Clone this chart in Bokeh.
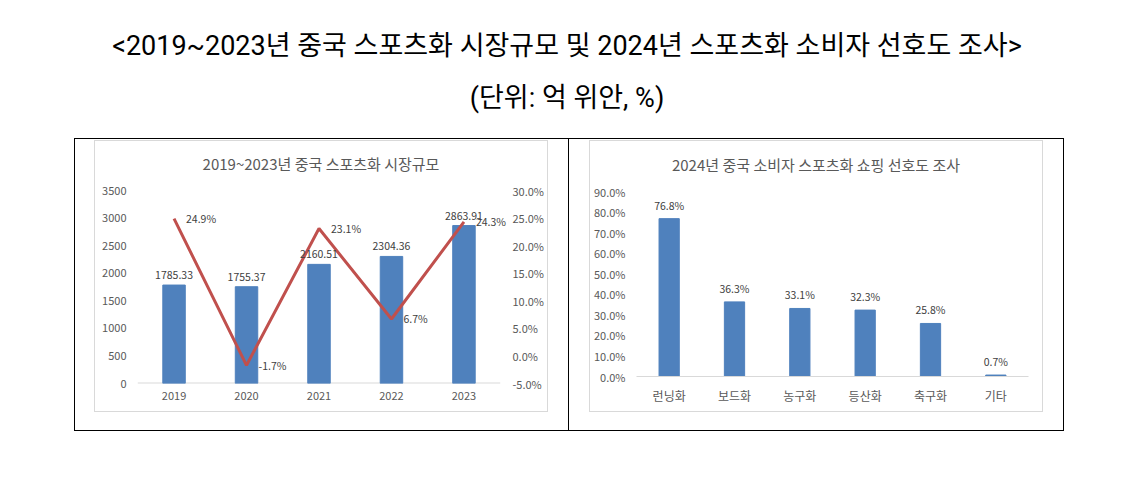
from bokeh.plotting import figure
from bokeh.layouts import row, column
from bokeh.models import (Div, Spacer, Range1d, LinearAxis, FixedTicker,
                          PrintfTickFormatter, FactorRange, Label)
from bokeh.core.properties import value
from bokeh.embed import file_html
from bokeh.resources import INLINE

# ---------------- data ----------------
years = ["2019", "2020", "2021", "2022", "2023"]
market_size = [1785.33, 1755.37, 2160.51, 2304.36, 2863.91]
growth_pct = [24.9, -1.7, 23.1, 6.7, 24.3]
market_ticks = [0, 500, 1000, 1500, 2000, 2500, 3000, 3500]
growth_ticks = [-5, 0, 5, 10, 15, 20, 25, 30]

shoe_types = ["런닝화", "보드화", "농구화", "등산화", "축구화", "기타"]
preference_pct = [76.8, 36.3, 33.1, 32.3, 25.8, 0.7]
pref_ticks = [0, 10, 20, 30, 40, 50, 60, 70, 80, 90]

main_title = "&lt;2019~2023년 중국 스포츠화 시장규모 및 2024년 스포츠화 소비자 선호도 조사&gt;"
unit_title = "(단위: 억 위안, %)"
left_title = "2019~2023년 중국 스포츠화 시장규모"
right_title = "2024년 중국 소비자 스포츠화 쇼핑 선호도 조사"

# ---------------- style ----------------
KFONT = "Noto Sans CJK KR"
BAR = "#4f81bd"
LINE = "#c0504d"
TICK = "#595959"
LABEL = "#404040"
GRAY = "#d9d9d9"


def hline(w, color):
    return Div(text="", width=w, height=1, margin=0,
               styles={"background-color": color})


def vline(h, color):
    return Div(text="", width=1, height=h, margin=0,
               styles={"background-color": color})


def sp(w, h):
    return Spacer(width=w, height=h, margin=0)


def title_div(txt, pad):
    html = (f'<div style="width:452px;text-align:center;font-family:\'{KFONT}\';'
            f'font-size:15px;color:{TICK};padding-top:{pad}px;line-height:20px;'
            f'white-space:nowrap;">{txt}</div>')
    return Div(text=html, width=452, height=40, margin=0)


def style_axis(ax, standoff):
    ax.axis_line_color = None
    ax.major_tick_line_color = None
    ax.minor_tick_line_color = None
    ax.major_tick_out = 0
    ax.major_tick_in = 0
    ax.major_label_standoff = standoff
    ax.major_label_text_font = KFONT
    ax.major_label_text_font_size = "11px"
    ax.major_label_text_color = TICK


# ---------------- left chart ----------------
# the frame is padded on both sides so that the last line label is not clipped;
# axis labels are pulled back in with negative standoffs
p1 = figure(width=452, height=230,
            x_range=FactorRange(*years, range_padding=0.28,
                                range_padding_units="absolute"),
            y_range=Range1d(0, 3500), output_backend="svg",
            toolbar_location=None, min_border_left=22, min_border_right=27,
            min_border_top=9, min_border_bottom=28, margin=0)
p1.outline_line_color = None
p1.xgrid.visible = False
p1.ygrid.visible = False
p1.extra_y_ranges = {"pct": Range1d(-5, 30)}

# baseline spanning only the category area
p1.segment(x0=[0], x1=[len(years)], y0=[0], y1=[0], line_color=GRAY,
           line_width=2)
p1.vbar(x=years, top=market_size, width=0.31, color=BAR)
p1.line(x=years, y=growth_pct, y_range_name="pct", color=LINE, line_width=3)

p1.text(x=years, y=market_size, text=[f"{v:.2f}" for v in market_size],
        text_align="center", text_baseline="bottom", y_offset=-6,
        text_font=value(KFONT), text_font_size="10.5px", text_color=LABEL)

for i, g in enumerate(growth_pct):
    p1.add_layout(Label(x=i + 0.5, y=g, text=f"{g:.1f}%", y_range_name="pct",
                        x_offset=12, text_align="left", text_baseline="middle",
                        text_font=KFONT, text_font_size="10.5px",
                        text_color=LABEL))

p1.yaxis.ticker = FixedTicker(ticks=market_ticks)
style_axis(p1.yaxis[0], -9)
style_axis(p1.xaxis[0], 8)

rax = LinearAxis(y_range_name="pct", ticker=FixedTicker(ticks=growth_ticks),
                 formatter=PrintfTickFormatter(format="%.1f%%"))
style_axis(rax, -8)
p1.add_layout(rax, "right")

# ---------------- right chart ----------------
p2 = figure(width=452, height=230, x_range=FactorRange(*shoe_types),
            y_range=Range1d(0, 90), output_backend="svg",
            toolbar_location=None, min_border_left=46, min_border_right=14,
            min_border_top=10, min_border_bottom=35, margin=0)
p2.outline_line_color = None
p2.xgrid.visible = False
p2.ygrid.visible = False

p2.vbar(x=shoe_types, top=preference_pct, width=0.31, color=BAR)
p2.text(x=shoe_types, y=preference_pct,
        text=[f"{v:.1f}%" for v in preference_pct],
        text_align="center", text_baseline="bottom", y_offset=-6,
        text_font=value(KFONT), text_font_size="10.5px", text_color=LABEL)

p2.yaxis.ticker = FixedTicker(ticks=pref_ticks)
p2.yaxis.formatter = PrintfTickFormatter(format="%.1f%%")
style_axis(p2.yaxis[0], 11)
style_axis(p2.xaxis[0], 10)
p2.xaxis.major_label_text_font_size = "12px"
p2.xaxis.axis_line_color = GRAY


def gray_box(title, pad, fig):
    return column(
        hline(454, GRAY),
        row(vline(270, GRAY), column(title_div(title, pad), fig, spacing=0, margin=0),
            vline(270, GRAY), spacing=0, margin=0),
        hline(454, GRAY),
        spacing=0, margin=0,
    )


left_panel = row(sp(19, 291),
                 column(sp(454, 1), gray_box(left_title, 13, p1), sp(454, 18),
                        spacing=0, margin=0),
                 sp(20, 291), spacing=0, margin=0)
right_panel = row(sp(20, 291),
                  column(sp(454, 1), gray_box(right_title, 14, p2), sp(454, 18),
                         spacing=0, margin=0),
                  sp(20, 291), spacing=0, margin=0)

head_html = (
    '<div style="width:1134px;text-align:center;font-family:Roboto,\'Noto Sans CJK KR\';'
    'color:#000;white-space:nowrap;">'
    f'<div style="padding-top:28px;line-height:36px;font-size:27px;">{main_title}</div>'
    f'<div style="margin-top:16px;line-height:36px;font-size:27px;">{unit_title}</div>'
    '</div>'
)
header = Div(text=head_html, width=1134, height=138, margin=0)

layout = column(
    header,
    row(sp(74, 1), hline(990, "#000000"), spacing=0, margin=0),
    row(sp(74, 291), vline(291, "#000000"), left_panel,
        vline(291, "#000000"), right_panel, vline(291, "#000000"),
        spacing=0, margin=0),
    row(sp(74, 1), hline(990, "#000000"), spacing=0, margin=0),
    spacing=0, margin=0,
)

open("out.html", "w").write(file_html(layout, INLINE))
